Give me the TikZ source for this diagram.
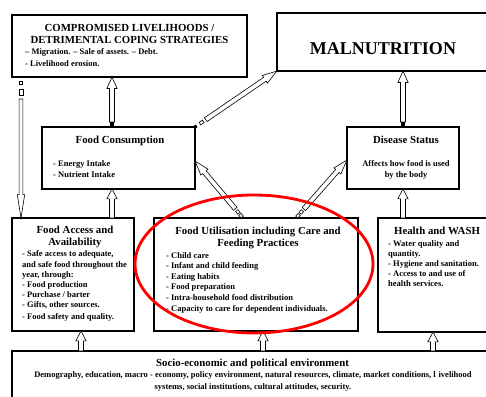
\documentclass[tikz,border=0pt]{standalone}
\usepackage{fontspec}
\setmainfont{Liberation Serif}
\usetikzlibrary{shapes.arrows,calc}
\tikzset{
  box/.style={draw=black, line width=1.2pt, fill=white, inner sep=0pt, outer sep=0pt, anchor=north west},
  ttl/.style={inner sep=0pt, font=\fontsize{10.8}{11.5}\selectfont\bfseries, align=center, anchor=base},
  txt/.style={inner sep=0pt, font=\fontsize{8.5}{10.2}\selectfont\bfseries, align=left, anchor=base west},
  barrowshape/.style={single arrow, draw=black, fill=white, line width=0.6pt, inner xsep=0pt, inner ysep=2.2pt, outer sep=0pt,
    minimum width=0pt, single arrow head extend=2.6pt, single arrow head indent=0pt, single arrow tip angle=55},
  tailsq/.style={draw=black, line width=0.6pt, fill=white, inner sep=0pt, outer sep=0pt, minimum width=3.5pt, minimum height=3pt},
  tailblk/.style={draw=black, fill=black, inner sep=0pt, outer sep=0pt, minimum width=2.5pt, minimum height=2.5pt}
}
% #1 style, #2 name, #3 tail, #4 tip, #5 gap at tail
\newcommand\blockarrow[5][]{%
  \path let \p1=($(#3)!#5!(#4)$), \p2=(#4), \n1={veclen(\x2-\x1,\y2-\y1)}, \n2={atan2(\y2-\y1,\x2-\x1)} in
    node[barrowshape, anchor=tail, rotate=\n2, minimum height=\n1, #1] (#2) at (\p1) {};}
% #1 style, #2 name, #3 tail, #4 tip, #5 distance from tail
\newcommand\tailmark[5][]{%
  \path let \p1=(#3), \p2=(#4), \n2={atan2(\y2-\y1,\x2-\x1)} in
    node[tailsq, rotate=\n2, #1] (#2) at ($(#3)!#5!(#4)$) {};}
\begin{document}
\begin{tikzpicture}[x=1pt, y=-1pt]
\useasboundingbox (0,0) rectangle (486,396);
\clip (0,0) rectangle (486,396);
\fill[white] (0,0) rectangle (486,396);

% boxes
\node[box, minimum width=235pt, minimum height=62pt] (comp) at (12,15) {};
\node[box, minimum width=225pt, minimum height=58pt] (maln) at (277,13) {};
\node[box, minimum width=153pt, minimum height=62pt] (cons) at (42,127) {};
\node[box, minimum width=112pt, minimum height=62pt] (dis) at (347,127) {};
\node[box, minimum width=122pt, minimum height=113pt] (acc) at (12,218) {};
\node[box, minimum width=204pt, minimum height=113pt] (util) at (154,218) {};
\node[box, minimum width=120pt, minimum height=114pt] (wash) at (378,218) {};
\node[box, minimum width=490pt, minimum height=80pt] (socio) at (12,351) {};

% texts (anchor base = baseline of the last line)
\node[ttl] (compt) at (129.5,43.5) {COMPROMISED LIVELIHOODS /\\DETRIMENTAL COPING STRATEGIES};
\node[txt, font=\fontsize{8.5}{11}\selectfont\bfseries] (compb) at (25,66) {– Migration. – Sale of assets. – Debt.\\- Livelihood erosion.};
\node[ttl, font=\fontsize{18}{20}\selectfont\bfseries] (malnt) at (383,55) {MALNUTRITION};
\node[ttl] (const) at (120,143) {Food Consumption};
\node[txt, font=\fontsize{8.5}{11}\selectfont\bfseries] (consb) at (53,177) {- Energy Intake\\- Nutrient Intake};
\node[ttl] (dist) at (406,143) {Disease Status};
\node[txt, anchor=base, align=center, font=\fontsize{8.5}{11}\selectfont\bfseries] (disb) at (406,177) {Affects how food is used\\by the body};
\node[ttl] (acct) at (75,245) {Food Access and\\Availability};
\node[txt] (accb) at (22,319) {- Safe access to adequate,\\and safe food throughout the\\year, through:\\- Food production\\- Purchase / barter\\- Gifts, other sources.\\[1pt]- Food safety and quality.};
\node[ttl, font=\fontsize{10.8}{12}\selectfont\bfseries] (utilt) at (258,246) {Food Utilisation including Care and\\Feeding Practices};
\node[txt, font=\fontsize{8.5}{10.6}\selectfont\bfseries] (utilb) at (166,311) {- Child care\\- Infant and child feeding\\- Eating habits\\- Food preparation\\- Intra-household food distribution\\- Capacity to care for dependent individuals.};
\node[ttl] (washt) at (437,234) {Health and WASH};
\node[txt, font=\fontsize{8.5}{10.1}\selectfont\bfseries] (washb) at (388,286.4) {- Water quality and\\quantity.\\- Hygiene and sanitation.\\- Access to and use of\\health services.};
\node[ttl] (sociot) at (252.5,366.5) {Socio-economic and political environment};
\node[txt, anchor=base, align=center, font=\fontsize{8.5}{11.5}\selectfont\bfseries] (sociob) at (253,389) {Demography, education, macro - economy, policy environment, natural resources, climate, market conditions, l\,\,ivelihood\\systems, social institutions, cultural attitudes, security.};

% connector end points
\coordinate (a1t) at (cons.north -| 112,0);
\coordinate (a1p) at (comp.south -| 112,0);
\coordinate (a2t) at (acc.north -| 112,0);
\coordinate (a2p) at (cons.south -| 112,0);
\coordinate (a3t) at (comp.south -| 21,0);
\coordinate (a3p) at (acc.north -| 21,0);
\coordinate (a5t) at (util.north -| 243,0);
\coordinate (a5p) at (cons.east |- 0,161);
\coordinate (a6t) at (util.north -| 296,0);
\coordinate (a6p) at (dis.west |- 0,160);
\coordinate (a7t) at (dis.north -| 403,0);
\coordinate (a7p) at (maln.south -| 403,0);
\coordinate (a8t) at (wash.north -| 403,0);
\coordinate (a8p) at (dis.south -| 403,0);
\coordinate (a9t) at (socio.north -| 81,0);
\coordinate (a9p) at (acc.south -| 81,0);
\coordinate (a10t) at (socio.north -| 263,0);
\coordinate (a10p) at (util.south -| 263,0);
\coordinate (a11t) at (socio.north -| 433,0);
\coordinate (a11p) at (wash.south -| 433,0);

% arrows
\blockarrow[single arrow tip angle=48]{ar1}{a1t}{a1p}{5pt}
\tailmark[tailblk]{ar1m}{a1t}{a1p}{3pt}
\blockarrow{ar2}{a2t}{a2p}{0pt}
\blockarrow[inner ysep=1.6pt, single arrow head extend=1.8pt, single arrow tip angle=18]{ar3}{a3t}{a3p}{22pt}
\tailmark{ar3m1}{a3t}{a3p}{6pt}
\tailmark[minimum width=6pt, minimum height=4pt]{ar3m2}{a3t}{a3p}{15pt}
\blockarrow[inner ysep=2pt, single arrow head extend=2.3pt, single arrow tip angle=35]{ar4}{cons.north east}{maln.south west}{13pt}
\tailmark[tailblk]{ar4m1}{cons.north east}{maln.south west}{0.5pt}
\tailmark[minimum width=4pt]{ar4m2}{cons.north east}{maln.south west}{8pt}
\blockarrow[inner ysep=2pt, single arrow head extend=2.3pt, single arrow tip angle=35]{ar5}{a5t}{a5p}{12pt}
\tailmark{ar5m1}{a5t}{a5p}{3pt}
\tailmark{ar5m2}{a5t}{a5p}{8pt}
\blockarrow[inner ysep=2pt, single arrow head extend=2.3pt, single arrow tip angle=35]{ar6}{a6t}{a6p}{12pt}
\tailmark{ar6m1}{a6t}{a6p}{3pt}
\tailmark{ar6m2}{a6t}{a6p}{8pt}
\blockarrow[single arrow tip angle=48]{ar7}{a7t}{a7p}{5pt}
\tailmark[tailblk]{ar7m}{a7t}{a7p}{3pt}
\blockarrow{ar8}{a8t}{a8p}{0pt}
\blockarrow{ar9}{a9t}{a9p}{0pt}
\blockarrow{ar10}{a10t}{a10p}{0pt}
\blockarrow{ar11}{a11t}{a11p}{0pt}

% red highlight
\draw[red, line width=2.8pt] (254,264) ellipse [x radius=119, y radius=69];
\end{tikzpicture}
\end{document}
